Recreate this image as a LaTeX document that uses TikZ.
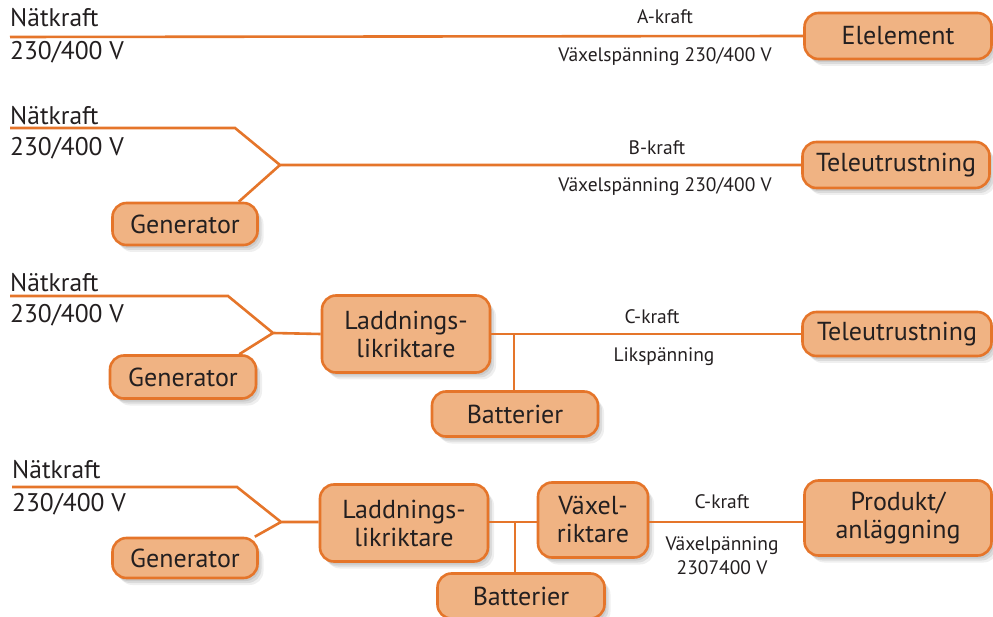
\documentclass[tikz,border=0pt]{standalone}
\usepackage{fontspec}
\setmainfont{PT Sans}
\usetikzlibrary{shadows}
\definecolor{boxfill}{HTML}{F0B383}
\definecolor{boxline}{HTML}{E5752A}
\definecolor{txt}{HTML}{231F20}
\tikzset{
  unitbox/.style={draw=boxline, line width=2.6pt, fill=boxfill, rounded corners=14pt,
    text=txt, font=\fontsize{26}{28}\selectfont, align=center, inner sep=0pt,
    drop shadow={shadow xshift=2pt, shadow yshift=-3pt, opacity=0.15, fill=black!60},
    drop shadow={shadow xshift=4pt, shadow yshift=-5pt, opacity=0.15, fill=black!60},
    drop shadow={shadow xshift=6pt, shadow yshift=-7pt, opacity=0.1, fill=black!60}},
  wire/.style={draw=boxline, line width=2.6pt},
  lbl/.style={text=txt, font=\fontsize{25.5}{27}\selectfont, inner sep=0pt, anchor=west},
  small/.style={text=txt, font=\fontsize{19.5}{24}\selectfont, inner sep=0pt, align=center}
}
\begin{document}
\begin{tikzpicture}[x=1pt, y=-1pt]
\useasboundingbox (0,0) rectangle (993,617);
% Row 1
\node[unitbox, minimum width=187pt, minimum height=46pt] (el) at (898,36) {Elelement};
\node[lbl] (n1) at (10,18) {Nätkraft};
\node[lbl] (v1) at (10,52) {230/400 V};
\node[small] (a1) at (665,17) {A-kraft};
\node[small] (s1) at (665,57) {Växelspänning 230/400 V};
\coordinate (p1) at (10,37);
\draw[wire] (p1) -- (el.west);
% Row 2
\node[unitbox, minimum width=187pt, minimum height=46pt] (tele1) at (896,165) {Teleutrustning};
\node[unitbox, minimum width=145pt, minimum height=42pt] (gen1) at (185,224) {Generator};
\node[lbl] (n2) at (10,116) {Nätkraft};
\node[lbl] (v2) at (10,148) {230/400 V};
\node[small] (b2) at (657,148) {B-kraft};
\node[small] (s2) at (665,187) {Växelspänning 230/400 V};
\coordinate (p2) at (10,128);
\coordinate (k2) at (235,128);
\coordinate (j2) at (280,165);
\draw[wire] (p2) -- (k2) -- (j2) -- (tele1.west);
\draw[wire] ([xshift=-20pt]gen1.north east) -- (j2);
% Row 3
\node[unitbox, minimum width=168pt, minimum height=77pt] (lad1) at (406,334) {Laddnings-\\likriktare};
\node[unitbox, minimum width=189pt, minimum height=44pt] (tele2) at (897,334) {Teleutrustning};
\node[unitbox, minimum width=166pt, minimum height=45pt] (bat1) at (515,414) {Batterier};
\node[unitbox, minimum width=146pt, minimum height=43pt] (gen2) at (183,377) {Generator};
\node[lbl] (n3) at (10,283) {Nätkraft};
\node[lbl] (v3) at (10,315) {230/400 V};
\node[small] (c3) at (652,317) {C-kraft};
\node[small] (s3) at (664,357) {Likspänning};
\coordinate (p3) at (10,296);
\coordinate (k3) at (228,296);
\coordinate (j3) at (273,333);
\coordinate (t3) at (514,334);
\draw[wire] (p3) -- (k3) -- (j3) -- (lad1.west);
\draw[wire] ([xshift=-18pt]gen2.north east) -- (j3);
\draw[wire] (lad1.east) -- (tele2.west);
\draw[wire] (t3) -- (bat1.north -| t3);
% Row 4
\node[unitbox, minimum width=168pt, minimum height=77pt] (lad2) at (404,523) {Laddnings-\\likriktare};
\node[unitbox, minimum width=110pt, minimum height=75pt] (vx) at (593,520) {Växel-\\riktare};
\node[unitbox, minimum width=187pt, minimum height=75pt] (prod) at (898,518) {Produkt/\\anläggning};
\node[unitbox, minimum width=167pt, minimum height=45pt] (bat2) at (521,596) {Batterier};
\node[unitbox, minimum width=145pt, minimum height=40pt] (gen3) at (185,558) {Generator};
\node[lbl] (n4) at (12,470) {Nätkraft};
\node[lbl] (v4) at (12,504) {230/400 V};
\node[small] (c4) at (722,502) {C-kraft};
\node[small] (s4) at (722,556) {Växelpänning\\2307400 V};
\coordinate (p4) at (12,487);
\coordinate (k4) at (237,487);
\coordinate (j4) at (281,522);
\coordinate (t4) at (515,522);
\draw[wire] (p4) -- (k4) -- (j4) -- (lad2.west |- j4);
\draw[wire] ([xshift=-4pt]gen3.north east) -- (j4);
\draw[wire] (lad2.east |- t4) -- (vx.west |- t4);
\draw[wire] (vx.east |- t4) -- (prod.west |- t4);
\draw[wire] (t4) -- (bat2.north -| t4);
\end{tikzpicture}
\end{document}
